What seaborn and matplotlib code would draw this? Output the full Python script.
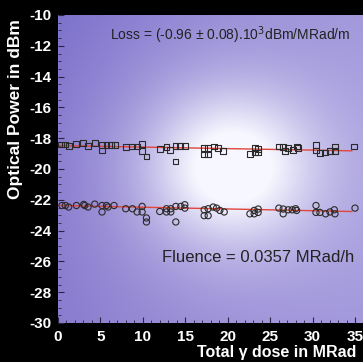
import numpy as np
import pandas as pd
import matplotlib
matplotlib.use("Agg")
import matplotlib.pyplot as plt
import seaborn as sns
from matplotlib.ticker import MultipleLocator, FixedLocator

# ---------------- data ----------------
sq_x = [0.40, 0.79, 1.30, 2.17, 2.95, 3.54, 4.41, 5.19, 5.19, 5.71, 6.21, 6.69, 7.98, 8.77, 9.34,
        9.91, 9.91, 10.42, 11.99, 12.78, 13.17, 13.84, 14.39, 14.94, 13.84, 17.22, 17.69, 17.22,
        17.69, 18.40, 18.87, 19.46, 22.61, 23.20, 23.20, 23.58, 23.58, 26.02, 26.53, 26.73, 27.12,
        27.71, 28.11, 28.30, 30.39, 30.39, 30.86, 31.45, 32.04, 32.63, 32.63, 34.91]
sq_y = [-18.41, -18.41, -18.51, -18.39, -18.32, -18.50, -18.32, -18.43, -18.80, -18.43, -18.43,
        -18.43, -18.58, -18.54, -18.54, -18.37, -18.86, -19.19, -18.69, -18.58, -18.75, -18.48,
        -18.48, -18.48, -19.51, -18.64, -18.64, -19.06, -19.06, -18.54, -18.61, -18.86, -19.01,
        -18.64, -18.93, -18.71, -18.93, -18.54, -18.58, -18.86, -18.64, -18.75, -18.54, -18.64,
        -18.43, -18.80, -18.97, -18.93, -18.86, -18.54, -18.86, -18.54]

ci_x = [0.47, 0.87, 1.26, 2.17, 3.03, 3.15, 3.54, 4.33, 5.19, 5.19, 5.71, 5.90, 6.60, 7.98, 8.77,
        9.32, 9.91, 9.91, 10.42, 10.42, 11.99, 12.78, 12.78, 13.29, 13.29, 13.88, 14.47, 14.94,
        14.94, 13.88, 17.22, 17.69, 17.22, 17.69, 18.28, 18.68, 19.07, 19.58, 22.61, 23.11, 23.11,
        23.58, 23.58, 26.02, 26.53, 26.53, 27.12, 27.59, 27.99, 28.11, 30.39, 30.39, 30.86, 31.53,
        32.04, 32.55, 32.63, 34.99]
ci_y = [-22.37, -22.37, -22.47, -22.37, -22.30, -22.37, -22.47, -22.28, -22.37, -22.79, -22.37,
        -22.47, -22.37, -22.58, -22.58, -22.79, -22.43, -22.79, -23.18, -23.44, -22.76, -22.58,
        -22.79, -22.58, -22.79, -22.43, -22.43, -22.32, -22.54, -23.44, -22.65, -22.58, -23.03,
        -23.03, -22.47, -22.54, -22.69, -22.79, -22.91, -22.69, -22.91, -22.60, -22.82, -22.54,
        -22.60, -22.91, -22.65, -22.65, -22.58, -22.69, -22.37, -22.82, -22.82, -22.91, -22.79,
        -22.65, -22.91, -22.54]

fit_x = [0.1, 34.6]
fit_sq = [-18.48, -18.82]
fit_ci = [-22.37, -22.76]

x_ticks = [0, 5, 10, 15, 20, 25, 30, 35]
y_ticks = [-30, -28, -26, -24, -22, -20, -18, -16, -14, -12, -10]

# ---------------- figure ----------------
W, H = 363, 362
fig = plt.figure(figsize=(W / 100, H / 100), dpi=100, facecolor="black")
ax_l, ax_t, ax_b = 58, 15, 323
ax = fig.add_axes([ax_l / W, 1 - ax_b / H, 1 - ax_l / W, (ax_b - ax_t) / H])
ax.set_xlim(0, (W - 58.3) / 8.48)
ax.set_ylim(-30, -10)

# background gradient (purple with bright glow)
gw, gh = 305, 308
xx, yy = np.meshgrid(np.arange(gw), np.arange(gh))
base = np.zeros((gh, gw, 3))
top_left = np.array([122, 110, 202]) / 255
bot_left = np.array([135, 120, 205]) / 255
right = np.array([158, 148, 218]) / 255
fx = xx / gw
fy = yy / gh
for c in range(3):
    base[..., c] = (top_left[c] * (1 - fy) + bot_left[c] * fy) * (1 - fx) + right[c] * fx
cx, cy = 175, 152
r2 = (xx - cx) ** 2 + ((yy - cy) * 1.1) ** 2
glow = np.exp(-r2 / (2 * 55 ** 2))
glow2 = np.exp(-r2 / (2 * 110 ** 2)) * 0.35
g = np.clip(glow * 0.85 + glow2, 0, 1)
img = base * (1 - g[..., None]) + np.array([0.97, 0.97, 1.0]) * g[..., None]
ax.imshow(np.clip(img, 0, 1), extent=[0, 1, 0, 1], transform=ax.transAxes,
          aspect="auto", zorder=0, interpolation="bilinear")

sq_df = pd.DataFrame({"dose": sq_x, "power": sq_y})
ci_df = pd.DataFrame({"dose": ci_x, "power": ci_y})
fit_df = pd.DataFrame({"dose": fit_x + fit_x,
                       "power": fit_sq + fit_ci,
                       "grp": ["sq", "sq", "ci", "ci"]})

sns.lineplot(data=fit_df, x="dose", y="power", units="grp", estimator=None,
             color="#e0463a", lw=1.0, ax=ax, zorder=2)
sns.scatterplot(data=sq_df, x="dose", y="power", marker="s", s=18,
                facecolor="none", edgecolor="#2a2a2a", linewidth=0.8, ax=ax, zorder=3)
sns.scatterplot(data=ci_df, x="dose", y="power", marker="o", s=20,
                facecolor="none", edgecolor="#2a2a2a", linewidth=0.8, ax=ax, zorder=3)

ax.set_xlabel("")
ax.set_ylabel("")
for s in ax.spines.values():
    s.set_visible(False)

ax.xaxis.set_major_locator(FixedLocator(x_ticks))
ax.yaxis.set_major_locator(FixedLocator(y_ticks))
ax.xaxis.set_minor_locator(MultipleLocator(1))
ax.yaxis.set_minor_locator(MultipleLocator(0.5))
ax.set_xticklabels([str(v) for v in x_ticks])
ax.set_yticklabels([str(v) for v in y_ticks])
ax.tick_params(axis="both", which="major", direction="in", length=4, width=0.8,
               color="#2a2440", labelcolor="white", pad=5)
ax.tick_params(axis="both", which="minor", direction="in", length=2, width=0.6,
               color="#2a2440")
fam = ["Liberation Sans", "DejaVu Sans"]
for lab in ax.get_xticklabels() + ax.get_yticklabels():
    lab.set_fontfamily(fam)
    lab.set_fontweight("bold")
    lab.set_fontsize(11)

def fx_(px):
    return px / W

def fy_(py):
    return 1 - py / H

fig.text(fx_(110), fy_(35), "Loss = (-0.96 \u00b1 0.08).10$^{3}$dBm/MRad/m",
         color="#222222", fontsize=10, family=["Liberation Sans", "DejaVu Sans"],
         ha="left", va="center")
fig.text(fx_(162), fy_(258), "Fluence = 0.0357 MRad/h",
         color="#222222", fontsize=12, family=["Liberation Sans", "DejaVu Sans"],
         ha="left", va="center")
fig.text(fx_(16), fy_(109), "Optical Power in dBm", color="white", fontsize=12.5,
         fontweight="bold", family=fam, rotation=90, ha="center", va="center")
fig.text(fx_(197), fy_(353), "Total \u03b3 dose in MRad", color="white", fontsize=11.5,
         fontweight="bold", family=fam, ha="left", va="center")

fig.savefig("out.png", dpi=100, facecolor="black")
